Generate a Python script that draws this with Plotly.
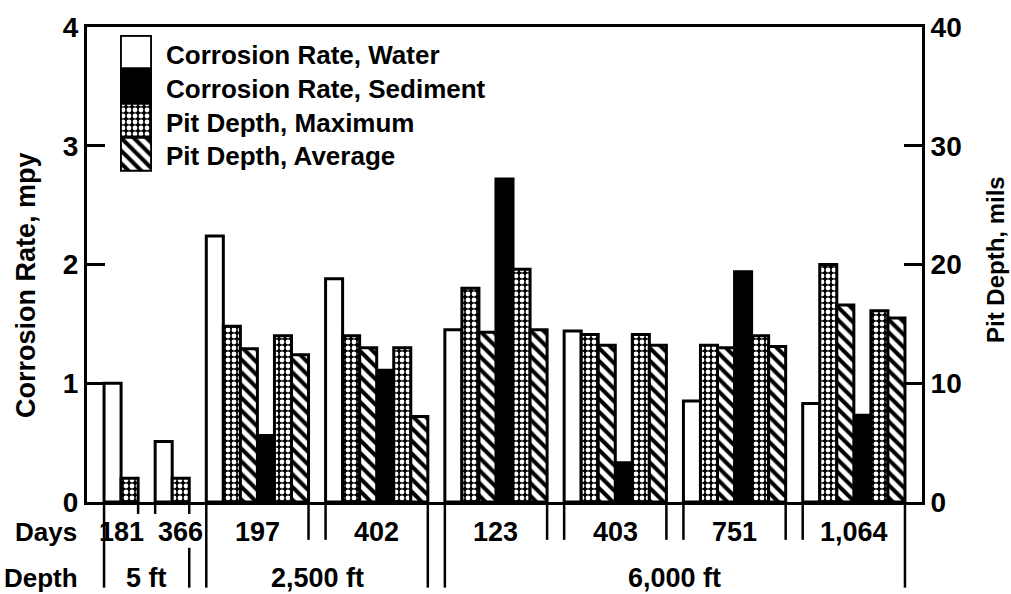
import plotly.graph_objects as go

# ---------------- data ----------------
days = ["181", "366", "197", "402", "123", "403", "751", "1,064"]
depth_labels = ["5 ft", "2,500 ft", "6,000 ft"]
groups_per_depth = [2, 2, 4]

water_rate = [1.0, 0.51, 2.24, 1.88, 1.45, 1.44, 0.85, 0.83]        # mpy
sediment_rate = [None, None, 0.56, 1.11, 2.72, 0.33, 1.94, 0.73]     # mpy
pit_max_water = [2.0, 2.0, 14.8, 14.0, 18.0, 14.1, 13.2, 20.0]       # mils
pit_avg_water = [None, None, 12.9, 13.0, 14.3, 13.2, 13.0, 16.6]     # mils
pit_max_sed = [None, None, 14.0, 13.0, 19.6, 14.1, 14.0, 16.1]       # mils
pit_avg_sed = [None, None, 12.4, 7.2, 14.5, 13.2, 13.1, 15.5]        # mils

legend_names = ["Corrosion Rate, Water", "Corrosion Rate, Sediment",
                "Pit Depth, Maximum", "Pit Depth, Average"]

# ---------------- styles ----------------
FONT = "Liberation Sans, Arial, Helvetica, sans-serif"
LINE = dict(color="black", width=3)
STYLE = {
    "water": dict(color="white", line=LINE),
    "sed": dict(color="black", line=LINE),
    "max": dict(color="black", line=LINE,
                pattern=dict(shape=".", bgcolor="black", fgcolor="white",
                             size=6, solidity=0.5, fillmode="replace")),
    "avg": dict(color="white", line=LINE,
                pattern=dict(shape="\\", bgcolor="white", fgcolor="black",
                             size=9, solidity=0.45, fillmode="replace")),
}

# ---------------- slot layout (one slot per bar, one gap slot between groups) ----------------
series = [("water", water_rate), ("max", pit_max_water), ("avg", pit_avg_water),
          ("sed", sediment_rate), ("max", pit_max_sed), ("avg", pit_avg_sed)]
pts = {"water": ([], []), "sed": ([], []), "max": ([], []), "avg": ([], [])}
axis_of = {"water": "y", "sed": "y", "max": "y2", "avg": "y2"}
bounds = []
start = 1
for g in range(len(days)):
    slot = start
    for key, arr in series:
        if arr[g] is not None:
            pts[key][0].append(slot + 0.5)
            pts[key][1].append(arr[g])
            slot += 1
    bounds.append((start, slot))
    start = slot + 1
total_slots = start

fig = go.Figure()
for key in ["water", "sed", "max", "avg"]:
    xs, ys = pts[key]
    fig.add_trace(go.Bar(x=xs, y=ys, width=1, yaxis=axis_of[key], xaxis="x",
                         marker=STYLE[key], showlegend=False, hoverinfo="skip"))

# ---------------- custom legend (swatch column drawn as stacked bars on own axes) ----------------
leg_keys = ["water", "sed", "max", "avg"]
for i, key in enumerate(leg_keys):
    fig.add_trace(go.Bar(x=[0], y=[1], base=[len(leg_keys) - 1 - i], width=1,
                         xaxis="x3", yaxis="y3", marker=STYLE[key],
                         showlegend=False, hoverinfo="skip"))

# plot-area pixel helpers (margins fixed below)
L, R, T, B = 87, 89, 25, 92
W, H = 1011, 594
pw, ph = W - L - R, H - T - B


def py(pix):
    return (H - B - pix) / ph


def px(pix):
    return (pix - L) / pw


def bold(size):
    return dict(family=FONT, size=size, color="black", weight="bold")


annotations = []
for i, name in enumerate(legend_names):
    annotations.append(dict(x=px(164), y=py(53 + 34 * i), xref="paper", yref="paper",
                            text=name, showarrow=False, xanchor="left", yanchor="middle",
                            font=bold(26)))

# depth sections
gi = 0
depth_bounds = []
for d, n in enumerate(groups_per_depth):
    s = bounds[gi][0]
    e = bounds[gi + n - 1][1]
    depth_bounds.append((s, e))
    annotations.append(dict(x=(s + e) / 2, y=py(578), xref="x", yref="paper", text=depth_labels[d],
                            showarrow=False, xanchor="center", yanchor="middle", font=bold(27)))
    gi += n

# day labels: centred between the lines that bound them in the Days row
for g, lab in enumerate(days):
    s, e = bounds[g]
    if g == 1:
        e = depth_bounds[1][0]
    annotations.append(dict(x=(s + e) / 2, y=py(532), xref="x", yref="paper", text=lab,
                            showarrow=False, xanchor="center", yanchor="middle", font=bold(27)))

annotations.append(dict(x=px(79), y=py(532), xref="paper", yref="paper", text="Days",
                        showarrow=False, xanchor="right", yanchor="middle", font=bold(26)))
annotations.append(dict(x=px(80), y=py(578), xref="paper", yref="paper", text="Depth",
                        showarrow=False, xanchor="right", yanchor="middle", font=bold(26)))
# axis titles
annotations.append(dict(x=px(26), y=py(284), xref="paper", yref="paper", text="Corrosion Rate, mpy",
                        textangle=-90, showarrow=False, xanchor="center", yanchor="middle",
                        font=bold(27)))
annotations.append(dict(x=px(995), y=py(259), xref="paper", yref="paper", text="Pit Depth, mils",
                        textangle=-90, showarrow=False, xanchor="center", yanchor="middle",
                        font=bold(24)))

# separator lines below the axis
shapes = []
y_days_end = py(540)
y_depth_top = py(548)
y_depth_end = py(588)
y_short = py(514)


def vline(x, y0, y1):
    shapes.append(dict(type="line", xref="x", yref="paper", x0=x, x1=x, y0=y0, y1=y1,
                       line=dict(color="black", width=2.5)))


# section outer boundaries: full lines
vline(depth_bounds[0][0], 0, y_depth_end)
vline(depth_bounds[-1][1], 0, y_depth_end)
# 5 ft section: short ticks between its groups
vline(bounds[0][1], 0, y_short)
vline(bounds[1][0], 0, y_short)
# boundary 5 ft / 2,500 ft
vline(depth_bounds[0][1], 0, y_short)
vline(depth_bounds[0][1], y_depth_top, y_depth_end)
vline(depth_bounds[1][0], 0, y_depth_end)
# boundary 2,500 ft / 6,000 ft
vline(depth_bounds[1][1], 0, y_depth_end)
vline(depth_bounds[2][0], 0, y_depth_end)
# group boundaries inside 2,500 ft and 6,000 ft sections
for g in range(2, len(days) - 1):
    if g == 3:
        continue
    vline(bounds[g][1], 0, y_days_end)
    vline(bounds[g + 1][0], 0, y_days_end)

# legend outline
shapes.append(dict(type="rect", xref="x3", yref="y3", x0=-0.5, x1=0.5, y0=0, y1=4,
                   line=dict(color="black", width=3.5)))

tickfont = bold(28)
fig.update_layout(
    width=W, height=H, margin=dict(l=L, r=R, t=T, b=B),
    paper_bgcolor="white", plot_bgcolor="white",
    barmode="overlay", showlegend=False,
    xaxis=dict(range=[0, total_slots], showticklabels=False, ticks="", showgrid=False,
               zeroline=False, showline=True, linecolor="black", linewidth=3, mirror=True,
               fixedrange=True),
    yaxis=dict(range=[0, 4], tickvals=[0, 1, 2, 3, 4], ticks="inside", ticklen=18,
               tickwidth=2.5, tickcolor="black", showline=True, linewidth=3,
               linecolor="black", showgrid=False, zeroline=False, tickfont=tickfont),
    yaxis2=dict(range=[0, 40], tickvals=[0, 10, 20, 30, 40], overlaying="y", side="right",
                ticks="inside", ticklen=18, tickwidth=2.5, tickcolor="black", showline=True,
                linewidth=3, linecolor="black", showgrid=False, zeroline=False,
                tickfont=tickfont),
    xaxis3=dict(domain=[px(120), px(152)], anchor="y3", range=[-0.5, 0.5], visible=False),
    yaxis3=dict(domain=[py(170), py(33)], anchor="x3", range=[0, 4], visible=False),
    annotations=annotations,
    shapes=shapes,
)

fig.write_html("out.html")
